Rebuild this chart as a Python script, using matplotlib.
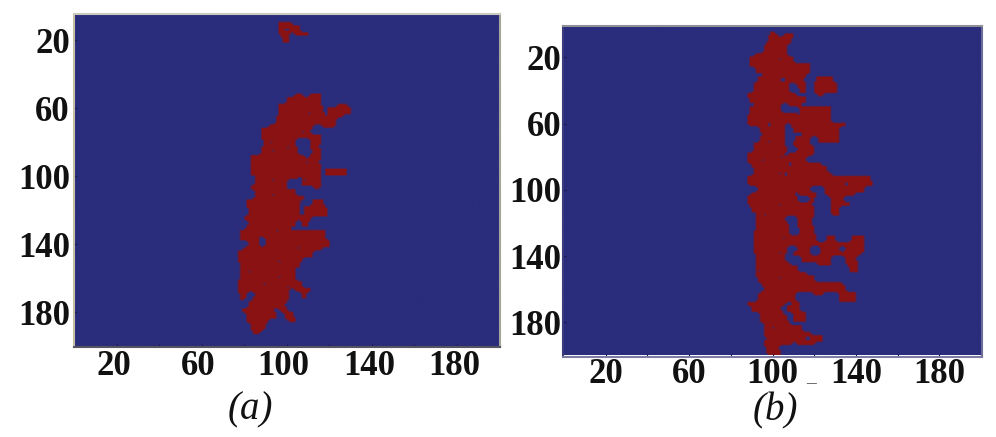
import numpy as np
import matplotlib
matplotlib.use('Agg')
import matplotlib.pyplot as plt
from matplotlib.colors import LinearSegmentedColormap
from matplotlib.transforms import ScaledTranslation

plt.rcParams['font.family'] = ['Liberation Serif', 'DejaVu Serif']

# tick values
tick_pos = list(range(20, 201, 20))
x_tick_labels = ['20', '', '60', '', '100', '', '140', '', '180', '']
y_tick_pos = [20, 60, 100, 140, 180]
y_tick_labels = ['20', '60', '100', '140', '180']

# cluster (a): row -> occupied x ranges
rows_a = [11.5, 14, 17, 20, 53, 56, 59, 62, 65, 68, 71, 74, 77, 80, 83, 86, 89, 92, 95, 98,
          101, 104, 107, 110, 113, 116, 119, 122, 125, 128, 131, 134, 137, 140, 143, 146, 149,
          152, 155, 158, 161, 164, 167, 170, 173, 176, 179, 182, 185, 188, 191, 194]
spans_a = [[(96, 102)], [(95.6, 98.7), (101, 106)], [(97, 101), (104, 109.5)], [(98.4, 101)],
           [(103.5, 107.4), (111.4, 116)], [(99.5, 116)], [(96.4, 116), (124, 128)],
           [(96.4, 117), (119, 130)], [(95.6, 118), (120, 126)], [(94.8, 123)],
           [(92.4, 112), (117, 122)], [(88.5, 111)], [(88, 116)], [(89, 104), (111.4, 116)],
           [(89, 104), (111, 114)], [(87.7, 104.7), (112, 116)], [(82.7, 108), (110.6, 116)],
           [(83, 115)], [(83, 116)], [(83, 116), (117.6, 128.4)], [(86, 105), (106.6, 116)],
           [(85, 100), (107, 116)], [(83, 98.8), (112.9, 115)], [(84.6, 104.3)], [(84.6, 108)],
           [(81.4, 106), (112, 117)], [(82, 106), (108, 117.7)], [(82, 106), (108, 119)],
           [(80, 106.6), (108, 110.6)], [(82, 104), (106.6, 110)], [(80.6, 101)], [(78, 117.6)],
           [(78, 86), (90, 118)], [(82, 87), (90, 120)], [(80, 116)], [(76.7, 112)],
           [(76.7, 107.4)], [(77.5, 106)], [(77.5, 102.7)], [(77.5, 104)], [(77.5, 104.3)],
           [(76.7, 106.6)], [(76.7, 101), (103.5, 110.6)], [(77.5, 80.6), (85, 101), (106.6, 109)],
           [(77.5, 79), (83.8, 99.5)], [(82, 98.7)], [(79, 93), (97, 100)],
           [(80.6, 91.6), (93, 94.8), (98.7, 102.7)], [(81.4, 90.9), (101, 104.3)], [(83, 90)],
           [(83.8, 87.7)], [(84.6, 86)]]
holes_a = [(92, 80), (100, 83), (93.5, 85), (109, 92), (93, 102), (107.7, 74), (110, 63), (108, 102),
           (93.5, 111.6), (106, 116), (95.6, 132), (105, 142.5), (96.7, 150), (82.5, 156),
           (96.7, 159), (89.3, 163), (100.3, 165.7)]

# cluster (b)
rows_b = [4, 7, 10, 13, 16, 19, 22, 25, 28, 31, 34, 37, 40, 43, 46, 49, 52, 55, 58, 61, 64, 67, 70,
          73, 76, 79, 82, 85, 88, 91, 94, 97, 100, 103, 106, 109, 112, 115, 118, 121, 124, 127, 130,
          133, 136, 139, 142, 145, 148, 151, 154, 157, 160, 163, 166, 169, 172, 175, 178, 181, 184,
          187, 190, 193, 196, 199]
spans_b = [[(98.8, 100.4)], [(98.8, 102), (106, 110)], [(98, 109)], [(97, 107)], [(95.6, 107)],
           [(92, 107)], [(89, 110)], [(89, 118)], [(91.5, 118)], [(95.6, 108.4), (110, 115.6)],
           [(93, 103.6), (106, 115), (121, 129)], [(90.7, 107), (111.6, 115.6), (119.6, 131)],
           [(90.7, 108.4), (113, 116.4), (120.4, 131)], [(88.3, 110.8), (122, 124.5)],
           [(89, 107), (107.6, 115.6)], [(91.5, 103.6), (108.4, 113)], [(89, 104), (113, 127.7)],
           [(89, 111.6), (114, 127.7)], [(87.5, 127.7)], [(89, 97), (99.6, 106), (109, 135)],
           [(94, 106), (110, 132.5)], [(95.6, 106), (115, 131.7)],
           [(94, 106), (110.8, 118), (122, 131.7)], [(90.7, 105), (110, 118)],
           [(90.7, 106.8), (111.6, 119.6)], [(88.3, 105), (108.4, 118.8)],
           [(88.3, 107.6), (109, 116.4)], [(90, 106.8), (110, 123)], [(90.7, 126)],
           [(90.7, 105), (108.4, 127.7)], [(88.3, 131), (132.5, 147)], [(89, 134), (137, 148.5)],
           [(93, 118), (125, 144)], [(90, 110), (113, 121), (126, 139)],
           [(88, 112.4), (118, 120), (127.7, 134)], [(89, 104.4), (106, 118), (128.5, 137)],
           [(90, 107.6), (109, 119.6), (128.5, 132.5)], [(93, 107.6), (108.4, 120.5), (129, 132.5)],
           [(92, 106), (111.6, 118.8)], [(91.5, 106.8), (112.4, 118)], [(91.5, 107.6), (113, 119.6)],
           [(90.7, 108), (113, 120.5)], [(90.7, 121), (126, 130), (138, 144)],
           [(92, 122), (123, 144)], [(90.7, 107), (111.6, 118), (123, 132.5), (135, 144)],
           [(92, 106), (110, 118), (123, 135), (137, 142)], [(91.5, 106), (114, 127.7), (135, 140)],
           [(91.5, 107.6), (122, 127.7), (136.5, 141)], [(92, 111.6), (137, 141)], [(92, 116.4)],
           [(93, 119.6)], [(95, 127.7), (128.5, 133)], [(95.6, 134.9)],
           [(94, 111), (120.5, 124.5), (132.5, 140.5)], [(93, 110.8), (131.7, 140.5)],
           [(87.5, 106), (110, 113)], [(90, 103.6), (106.8, 113)], [(94, 105), (110, 116.4)],
           [(94, 106.8), (110, 115.6)], [(95.6, 107.6)], [(95.6, 114)], [(95.6, 118)],
           [(97, 116.4), (118, 123.6)], [(95.6, 109), (112.4, 119.6)], [(97, 103)], [(98, 103.6)]]
holes_b = [(103, 21), (95.6, 82), (104.4, 80), (103.6, 90), (98.8, 71.5), (96.4, 115), (105, 129),
           (103.3, 138.5), (103.3, 153), (93, 149.5), (100.4, 183.7), (103.6, 109), (110.8, 127)]

cmap = LinearSegmentedColormap.from_list('cluster', ['#2a2c7c', '#8a1212'])
W, H = 996, 437


def make_field(rows, spans, holes):
    field = np.zeros((200, 200))
    for y, segs in zip(rows, spans):
        for x0, x1 in segs:
            field[int(round(y - 1.5)):int(round(y + 1.5)), int(round(x0)):int(round(x1))] = 1
    # round the blocky rows off a little, the lattice cells are about this size
    smooth = np.zeros_like(field)
    for dy in (-1, 0, 1):
        for dx in (-1, 0, 1):
            smooth += np.roll(np.roll(field, dy, axis=0), dx, axis=1)
    field = (smooth >= 4).astype(float)
    for x, y in holes:
        field[int(y), int(x)] = 0.35
    return field


def draw_panel(box, field, xlim, ylim, pad_x, pad_y, shift, caption, cap_xy, spine_cols):
    left, top, right, bottom = box
    ax = fig.add_axes([left / W, 1 - bottom / H, (right - left) / W, (bottom - top) / H])
    ax.imshow(field, cmap=cmap, vmin=0, vmax=1, extent=(0, 200, 200, 0),
              interpolation='bilinear', aspect='auto')
    ax.set_xlim(xlim)
    ax.set_ylim(ylim)
    ax.set_xticks(tick_pos)
    ax.set_xticklabels(x_tick_labels, fontsize=25, fontweight='bold', color='#111111')
    ax.set_yticks(y_tick_pos)
    ax.set_yticklabels(y_tick_labels, fontsize=25, fontweight='bold', color='#111111')
    ax.tick_params(axis='x', direction='in', length=2, width=0.8, color='#1a1a50', pad=pad_x)
    ax.tick_params(axis='y', direction='in', length=2, width=0.8, color='#1a1a50', pad=pad_y)
    offset = ScaledTranslation(shift / 100, 0, fig.dpi_scale_trans)
    for lab in ax.get_xticklabels():
        lab.set_transform(lab.get_transform() + offset)
    for name, col in spine_cols.items():
        ax.spines[name].set_color(col)
        ax.spines[name].set_linewidth(1.5)
    fig.text(cap_xy[0] / W, 1 - cap_xy[1] / H, caption, fontsize=28, style='italic',
             ha='center', va='center', color='#111111')
    return ax


fig = plt.figure(figsize=(W / 100, H / 100), dpi=100)

draw_panel((74, 14, 499.5, 347), make_field(rows_a, spans_a, holes_a), (0, 200), (200.5, 4.7),
           2, 3, -3, '(a)', (250, 410),
           {'top': '#c9c9bd', 'left': '#c4bfa5', 'bottom': '#55555f', 'right': '#a5a59a'})
draw_panel((563, 26, 982, 357), make_field(rows_b, spans_b, holes_b), (-0.5, 200.5), (201, 1),
           1, 1, 0, '(b)', (775, 411),
           {'top': '#8f8f98', 'left': '#3a3c80', 'bottom': '#7c7ca4', 'right': '#6c6c98'})

# stray dash under the axis in panel (b)
fig.text(811 / W, 1 - 378 / H, '_', fontsize=14, ha='center', va='center', color='#444444')

fig.savefig('out.png', dpi=100)
